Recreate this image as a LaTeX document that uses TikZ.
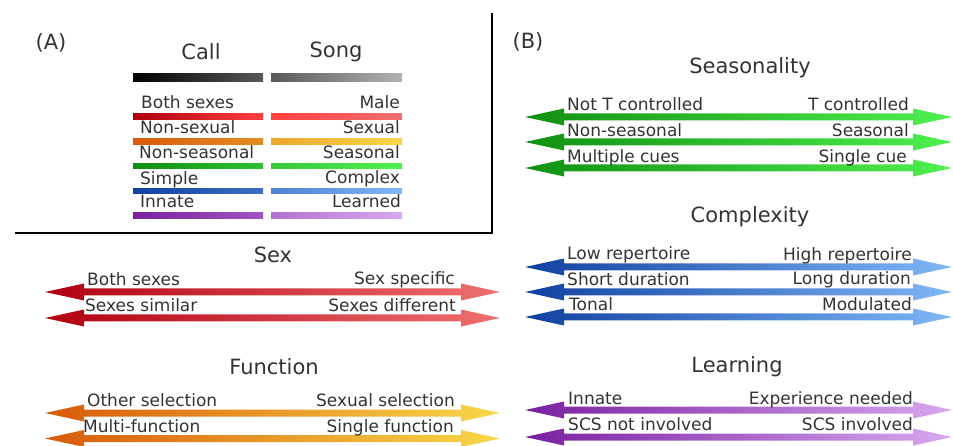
\documentclass[tikz,border=0pt]{standalone}
\usepackage{fontspec}
\setmainfont{DejaVu Sans}
\definecolor{txt}{HTML}{333333}
\definecolor{redA}{HTML}{B00010}\definecolor{redB}{HTML}{F07070}
\definecolor{oraA}{HTML}{D85A0A}\definecolor{oraB}{HTML}{F8D848}
\definecolor{grnA}{HTML}{109010}\definecolor{grnB}{HTML}{50F050}
\definecolor{bluA}{HTML}{1040A0}\definecolor{bluB}{HTML}{80B8F8}
\definecolor{purA}{HTML}{7A20A0}\definecolor{purB}{HTML}{D8A8F0}
\def\gradarrow(#1:#2:#3)[#4][#5]{\shade[left color=#4,right color=#5] (#2,#1) -- ({#2+39},{#1-8.5}) -- ({#2+39},{#1-3.5}) -- ({#3-39},{#1-3.5}) -- ({#3-39},{#1-8.5}) -- (#3,#1) -- ({#3-39},{#1+8.5}) -- ({#3-39},{#1+3.5}) -- ({#2+39},{#1+3.5}) -- ({#2+39},{#1+8.5}) -- cycle;}
\def\gradbar(#1:#2:#3)[#4][#5]{\shade[left color=#4,right color=#5] (#2,{#1-2.7}) rectangle (#3,{#1+2.7});}

\begin{document}
\begin{tikzpicture}[x=1pt,y=-1pt,
		lbl/.style={inner sep=0pt,text=txt,font=\fontsize{17}{19}\selectfont,text height=12.5pt,text depth=3.5pt},
		ttl/.style={inner sep=0pt,text=txt,font=\fontsize{21}{24}\selectfont}]
		\useasboundingbox (0,0) rectangle (953,446);
		%%%%% START %%%%%
		% panel A
		\draw[line width=2.5pt] (492,13) -- (492,233) -- (15,233);
		\node[ttl] (pa) at (51,43) {(A)};
		\node[ttl] (call) at (201,52) {Call};
		\node[ttl] (song) at (336,52) {Song};
		\shade[left color=black,right color=black!65] (133,74) rectangle (263,82);
		\shade[left color=black!65,right color=black!30] (271,74) rectangle (402,82);
		
		\node[lbl,anchor=west] (c1) at (141,104) {Both sexes};
		\node[lbl,anchor=east] (s1) at (400,104) {Male};
		\gradbar(116.5:133:263)[redA][red!75!white]
		\gradbar(116.5:271:402)[red!75!white][redB]
		
		\node[lbl,anchor=west] (c2) at (140,129) {Non-sexual};
		\node[lbl,anchor=east] (s2) at (400,129) {Sexual};
		\gradbar(141.5:133:263)[oraA][oraA!60!oraB]
		\gradbar(141.5:271:402)[oraA!40!oraB][oraB]
		
		\node[lbl,anchor=west] (c3) at (139,154) {Non-seasonal};
		\node[lbl,anchor=east] (s3) at (400,154) {Seasonal};
		\gradbar(166:133:263)[grnA][grnA!50!grnB]
		\gradbar(166:271:402)[grnA!40!grnB][grnB]
		
		\node[lbl,anchor=west] (c4) at (140,180) {Simple};
		\node[lbl,anchor=east] (s4) at (400,179) {Complex};
		\gradbar(191:133:263)[bluA][bluA!60!bluB]
		\gradbar(191:271:402)[bluA!45!bluB][bluB]
		
		\node[lbl,anchor=west] (c5) at (140,203) {Innate};
		\node[lbl,anchor=east] (s5) at (401,203) {Learned};
		\gradbar(215.5:133:263)[purA][purA!60!purB]
		\gradbar(215.5:271:402)[purA!40!purB][purB]
		
		% sex
		\node[ttl] (sex) at (273,255) {Sex};
		\gradarrow(292:45:500)[redA][redB]
		\gradarrow(318:45:500)[redA][redB]
		\node[lbl,anchor=west] (sexl1) at (87,281) {Both sexes};
		\node[lbl,anchor=east] (sexr1) at (455,280) {Sex specific};
		\node[lbl,anchor=west] (sexl2) at (85,307) {Sexes similar};
		\node[lbl,anchor=east] (sexr2) at (456,307) {Sexes different};
		
		% function
		\node[ttl] (fun) at (274,367) {Function};
		\gradarrow(413:45:500)[oraA][oraB]
		\gradarrow(438.5:45:500)[oraA][oraB]
		\node[lbl,anchor=west] (funl1) at (87,402) {Other selection};
		\node[lbl,anchor=east] (funr1) at (455,402) {Sexual selection};
		\node[lbl,anchor=west] (funl2) at (83,428) {Multi-function};
		\node[lbl,anchor=east] (funr2) at (454,428) {Single function};
		
		% panel B
		\node[ttl] (pb) at (528,42) {(B)};
		
		% seasonality
		\node[ttl] (sea) at (750,68) {Seasonality};
		\gradarrow(117:525:952)[grnA][grnB]
		\gradarrow(142:525:952)[grnA][grnB]
		\gradarrow(168:525:952)[grnA][grnB]
		\node[lbl,anchor=west] (seal1) at (567,106) {Not T controlled};
		\node[lbl,anchor=east] (sear1) at (909,106) {T controlled};
		\node[lbl,anchor=west] (seal2) at (567,132) {Non-seasonal};
		\node[lbl,anchor=east] (sear2) at (909,132) {Seasonal};
		\node[lbl,anchor=west] (seal3) at (567,158) {Multiple cues};
		\node[lbl,anchor=east] (sear3) at (907,158) {Single cue};
		
		% complexity
		\node[ttl] (com) at (750,217) {Complexity};
		\gradarrow(267:525:952)[bluA][bluB]
		\gradarrow(292:525:952)[bluA][bluB]
		\gradarrow(317:525:952)[bluA][bluB]
		\node[lbl,anchor=west] (coml1) at (567,255) {Low repertoire};
		\node[lbl,anchor=east] (comr1) at (912,256) {High repertoire};
		\node[lbl,anchor=west] (coml2) at (567,281) {Short duration};
		\node[lbl,anchor=east] (comr2) at (911,280) {Long duration};
		\node[lbl,anchor=west] (coml3) at (569,306) {Tonal};
		\node[lbl,anchor=east] (comr3) at (912,306) {Modulated};
		
		% learning
		\node[ttl] (lea) at (737,367) {Learning};
		\gradarrow(410:525:952)[purA][purB]
		\gradarrow(437:525:952)[purA][purB]
		\node[lbl,anchor=west] (leal1) at (568,400) {Innate};
		\node[lbl,anchor=east] (lear1) at (913,400) {Experience needed};
		\node[lbl,anchor=west] (leal2) at (568,426) {SCS not involved};
		\node[lbl,anchor=east] (lear2) at (913,426) {SCS involved};
		%%%%% END %%%%%
	\end{tikzpicture}
\end{document}
